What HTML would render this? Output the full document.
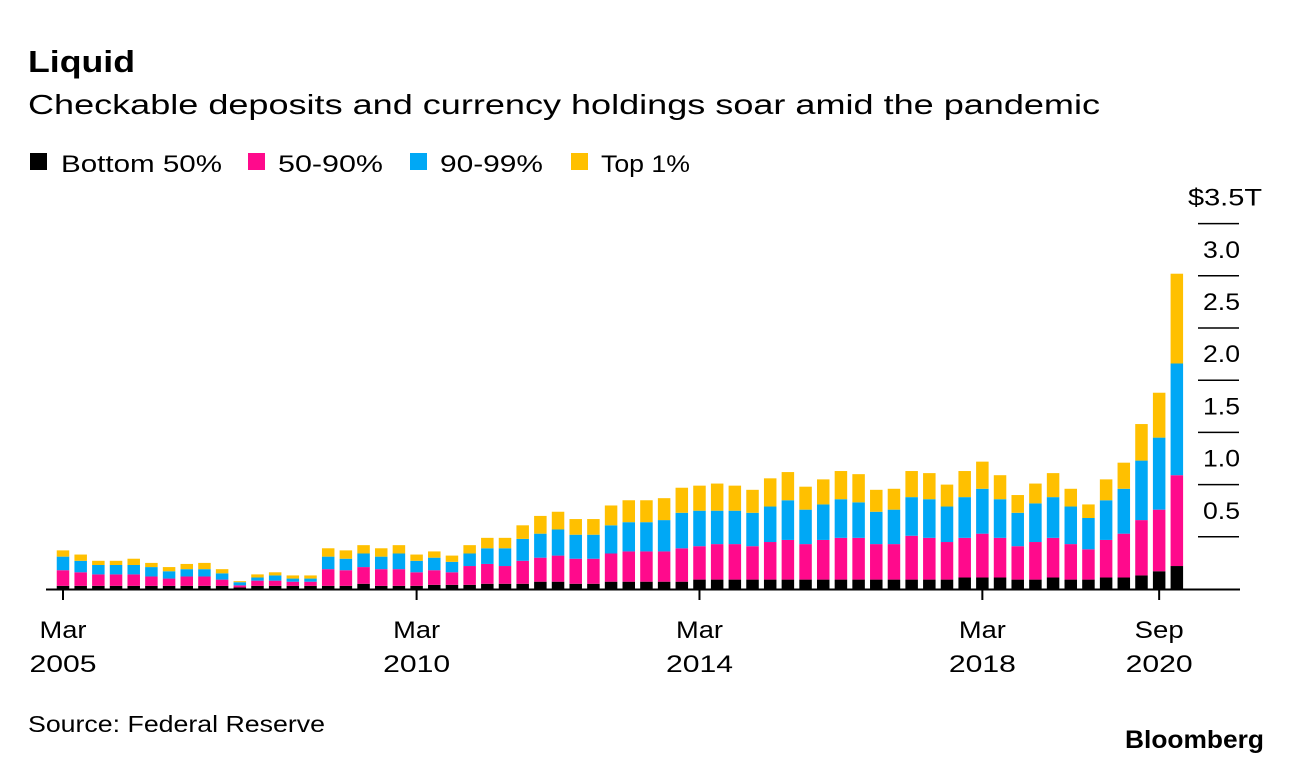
<!DOCTYPE html>
<html><head><meta charset="utf-8"><style>
html,body{margin:0;padding:0;background:#fff;}
svg{display:block;font-family:"Liberation Sans",sans-serif;}
</style></head><body>
<svg id="chart" width="1292" height="764" viewBox="0 0 1292 764">
<text x="28" y="72" font-size="31" font-weight="bold" fill="#000" textLength="107" lengthAdjust="spacingAndGlyphs">Liquid</text>
<text x="28" y="114" font-size="28" fill="#000" textLength="1072" lengthAdjust="spacingAndGlyphs">Checkable deposits and currency holdings soar amid the pandemic</text>
<g>
<g><rect x="30" y="153" width="17" height="17" fill="#000"/><text x="61" y="172" font-size="24" textLength="161" lengthAdjust="spacingAndGlyphs">Bottom 50%</text></g>
<g><rect x="248" y="153" width="17" height="17" fill="#ff0a8c"/><text x="278" y="172" font-size="24" textLength="105" lengthAdjust="spacingAndGlyphs">50-90%</text></g>
<g><rect x="410" y="153" width="17" height="17" fill="#00a8f5"/><text x="440" y="172" font-size="24" textLength="103" lengthAdjust="spacingAndGlyphs">90-99%</text></g>
<g><rect x="571" y="153" width="17" height="17" fill="#ffc000"/><text x="601" y="172" font-size="24" textLength="89" lengthAdjust="spacingAndGlyphs">Top 1%</text></g>
</g>
<g id="bars"></g>
<g id="yaxis"></g>
<g id="xaxis"></g>
<text x="28" y="732" font-size="23" textLength="297" lengthAdjust="spacingAndGlyphs">Source: Federal Reserve</text>
<text x="1125" y="748" font-size="25" font-weight="bold" textLength="139" lengthAdjust="spacingAndGlyphs">Bloomberg</text>
</svg>
<script>
const bottom50 = [.03,.03,.03,.03,.03,.03,.03,.03,.03,.03,.015,.03,.03,.03,.03,.03,.03,.05,.03,.03,.03,.04,.04,.04,.05,.05,.05,.07,.07,.05,.05,.07,.07,.07,.07,.07,.09,.09,.09,.09,.09,.09,.09,.09,.09,.09,.09,.09,.09,.09,.09,.11,.11,.11,.09,.09,.11,.09,.09,.11,.11,.13,.17,.22];
const p50to90 = [.15,.13,.11,.11,.11,.09,.07,.09,.09,.06,.02,.05,.05,.04,.04,.16,.15,.16,.16,.16,.13,.14,.12,.18,.19,.17,.22,.23,.25,.24,.24,.27,.29,.29,.29,.32,.32,.34,.34,.32,.36,.38,.34,.38,.40,.40,.34,.34,.42,.40,.36,.38,.42,.38,.32,.36,.38,.34,.29,.36,.42,.53,.59,.87];
const p90to99 = [.13,.11,.09,.09,.09,.09,.07,.07,.07,.06,.03,.03,.05,.03,.03,.12,.11,.13,.12,.15,.11,.12,.10,.12,.15,.17,.21,.23,.25,.23,.23,.27,.28,.28,.30,.34,.34,.32,.32,.32,.34,.38,.33,.34,.37,.34,.31,.33,.37,.37,.34,.39,.43,.37,.32,.37,.39,.36,.30,.38,.43,.57,.69,1.07];
const top1 = [.06,.06,.04,.04,.06,.04,.04,.05,.06,.04,.01,.03,.03,.03,.03,.08,.08,.08,.08,.08,.06,.06,.06,.08,.10,.10,.13,.17,.17,.15,.15,.19,.21,.21,.21,.24,.24,.26,.24,.22,.27,.27,.22,.24,.27,.27,.21,.20,.25,.25,.21,.25,.26,.23,.17,.19,.23,.17,.13,.20,.25,.35,.43,.86];
const yTicks = [0.5,1.0,1.5,2.0,2.5,3.0,3.5];
const yTickLabels = ["0.5","1.0","1.5","2.0","2.5","3.0","$3.5T"];
const xTickIndex = [0,20,36,52,62];
const xTickMonth = ["Mar","Mar","Mar","Mar","Sep"];
const xTickYear = ["2005","2010","2014","2018","2020"];

const NS="http://www.w3.org/2000/svg";
const base=589, pxPerUnit=104.4, x0=63, step=17.68, bw=12.5;
const y=v=>base-v*pxPerUnit;
const x=i=>x0+i*step;
function mk(tag,attrs,parent){const e=document.createElementNS(NS,tag);for(const k in attrs)e.setAttribute(k,attrs[k]);parent.appendChild(e);return e;}
const bars=document.getElementById('bars');
const series=[[bottom50,'#000','bottom-50'],[p50to90,'#ff0a8c','50-90'],[p90to99,'#00a8f5','90-99'],[top1,'#ffc000','top-1']];
for(let i=0;i<bottom50.length;i++){
  let cum=0;
  for(const [arr,col,nm] of series){
    const v=arr[i];
    const r=mk('rect',{x:x(i)-bw/2,y:y(cum+v),width:bw,height:v*pxPerUnit,fill:col},bars);
    
    
    cum+=v;
  }
}
const ya=document.getElementById('yaxis');
yTicks.forEach((t,k)=>{
  const l=mk('line',{x1:1198,x2:1239,y1:y(t),y2:y(t),stroke:'#000','stroke-width':1.5},ya);
  
  
  const lab=yTickLabels[k];
  const isTop=lab.startsWith('$');
  const tx=mk('text',{x:isTop?1188:1203,y:y(t)-18,'font-size':24,textLength:isTop?74:37,lengthAdjust:'spacingAndGlyphs'},ya);
  tx.textContent=lab;
  
  
});
const xa=document.getElementById('xaxis');
const bl=mk('line',{x1:46,x2:1240,y1:base+0.5,y2:base+0.5,stroke:'#000','stroke-width':2},xa);


xTickIndex.forEach((idx,k)=>{
  const t=mk('line',{x1:x(idx),x2:x(idx),y1:base,y2:base+11,stroke:'#000','stroke-width':2},xa);
  
  
  const mw=xTickMonth[k]==='Sep'?49:47;
  const a=mk('text',{x:x(idx)-mw/2,y:638,'font-size':24,textLength:mw,lengthAdjust:'spacingAndGlyphs'},xa);
  a.textContent=xTickMonth[k];
  
  
  const b=mk('text',{x:x(idx)-33.5,y:672,'font-size':24,textLength:67,lengthAdjust:'spacingAndGlyphs'},xa);
  b.textContent=xTickYear[k];
  
  
});
</script>
</body></html>
